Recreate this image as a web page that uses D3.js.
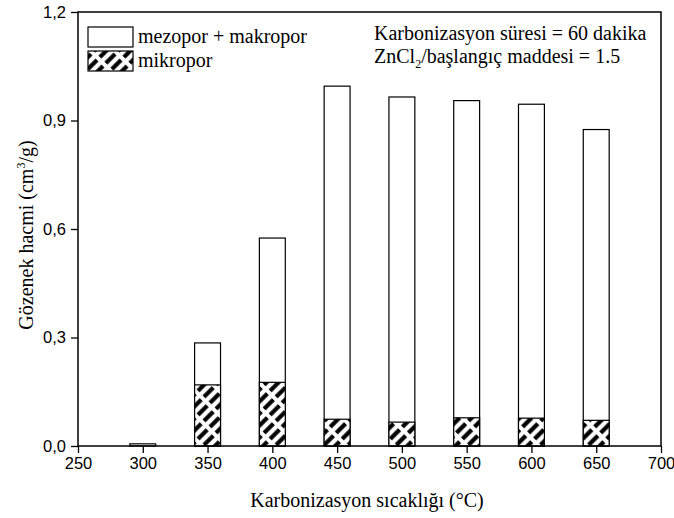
<!DOCTYPE html>
<html>
<head>
<meta charset="utf-8">
<script src="https://cdn.jsdelivr.net/npm/d3@7"></script>
<style>
  body { margin: 0; background: #fff; }
  svg text { fill: #000; }
  .tick text { font-family: "Liberation Sans", Arial, sans-serif; font-size: 16.5px; }
</style>
</head>
<body>
<div id="chart"></div>
<script>
// temperatures (°C)
var temps = [300, 350, 400, 450, 500, 550, 600, 650];
// total pore volume (mezopor + makropor + mikropor), cm3/g
var totalVol = [0.006, 0.285, 0.575, 0.995, 0.965, 0.955, 0.945, 0.875];
// micropore volume, cm3/g
var microVol = [0.0, 0.169, 0.176, 0.074, 0.066, 0.078, 0.077, 0.071];

var xTicks = [250, 300, 350, 400, 450, 500, 550, 600, 650, 700];
var yTicks = [0.0, 0.3, 0.6, 0.9, 1.2];

var legendLabels = ["mezopor + makropor", "mikropor"];

var SERIF = '"Liberation Serif", "Times New Roman", Times, serif';

var width = 674, height = 518;
var margin = {top: 12, right: 13, bottom: 72, left: 78};
var w = width - margin.left - margin.right,
    h = height - margin.top - margin.bottom;

var svg = d3.select("#chart").append("svg")
    .attr("width", width)
    .attr("height", height);

// hatch pattern for micropores (thick dashed diagonals)
var defs = svg.append("defs");
var pat = defs.append("pattern")
    .attr("id", "hatch")
    .attr("patternUnits", "userSpaceOnUse")
    .attr("width", 8.5)
    .attr("height", 17)
    .attr("patternTransform", "rotate(45)");
pat.append("rect").attr("width", 8.5).attr("height", 17).attr("fill", "#fff");
pat.append("line")
    .attr("x1", 4.25).attr("y1", 0)
    .attr("x2", 4.25).attr("y2", 13)
    .attr("stroke", "#000")
    .attr("stroke-width", 4.2);

var g = svg.append("g")
    .attr("transform", "translate(" + margin.left + "," + margin.top + ")");

var x = d3.scaleLinear().domain([250, 700]).range([0, w]);
var y = d3.scaleLinear().domain([0, 1.2]).range([h, 0]);

var barW = x(360) - x(340);

// bars: total first (white), then micropore (hatched)
g.append("g").selectAll("rect")
    .data(temps)
    .enter()
    .append("rect")
        .attr("x", function(d) { return x(d) - barW / 2; })
        .attr("y", function(d, i) { return y(totalVol[i]); })
        .attr("width", barW)
        .attr("height", function(d, i) { return h - y(totalVol[i]); })
        .attr("fill", "#fff")
        .attr("stroke", "#000")
        .attr("stroke-width", 1.2);

g.append("g").selectAll("rect")
    .data(temps.filter(function(d, i) { return microVol[i] > 0; }))
    .enter()
    .append("rect")
        .attr("x", function(d) { return x(d) - barW / 2; })
        .attr("y", function(d) { return y(microVol[temps.indexOf(d)]); })
        .attr("width", barW)
        .attr("height", function(d) { return h - y(microVol[temps.indexOf(d)]); })
        .attr("fill", "url(#hatch)")
        .attr("stroke", "#000")
        .attr("stroke-width", 1.2);

// axes
var xAxis = g.append("g")
    .attr("transform", "translate(0," + h + ")")
    .call(d3.axisBottom(x).tickValues(xTicks).tickSize(7).tickPadding(4).tickFormat(d3.format("d")));
var yAxis = g.append("g")
    .call(d3.axisLeft(y).tickValues(yTicks).tickSize(7).tickPadding(5)
        .tickFormat(function(d) { return d3.format(".1f")(d).replace(".", ","); }));
[xAxis, yAxis].forEach(function(a) {
    a.select(".domain").remove();
    a.selectAll(".tick line").attr("stroke", "#000").attr("stroke-width", 1.3);
});

// frame
g.append("rect")
    .attr("width", w)
    .attr("height", h)
    .attr("fill", "none")
    .attr("stroke", "#000")
    .attr("stroke-width", 1.5);

// axis titles
svg.append("text")
    .attr("text-anchor", "middle")
    .attr("x", 367)
    .attr("y", 507)
    .style("font-family", SERIF)
    .style("font-size", "20px")
    .text("Karbonizasyon sıcaklığı (°C)");

var yt = svg.append("text")
    .attr("text-anchor", "middle")
    .attr("transform", "translate(33,235) rotate(-90)")
    .style("font-family", SERIF)
    .style("font-size", "20px");
yt.append("tspan").text("Gözenek hacmi (cm");
yt.append("tspan").attr("dy", -8).style("font-size", "12px").text("3");
yt.append("tspan").attr("dy", 8).text("/g)");

// legend
var leg = svg.append("g").attr("transform", "translate(88,27)");
legendLabels.forEach(function(lab, i) {
    var row = leg.append("g").attr("transform", "translate(0," + (i * 24) + ")");
    row.append("rect")
        .attr("width", 45)
        .attr("height", 20)
        .attr("fill", i === 0 ? "#fff" : "url(#hatch)")
        .attr("stroke", "#000")
        .attr("stroke-width", 1.2);
    row.append("text")
        .attr("x", 50)
        .attr("y", 16)
        .style("font-family", SERIF)
        .style("font-size", "20px")
        .text(lab);
});

// annotation
var ann = svg.append("g").style("font-family", SERIF).style("font-size", "20px");
ann.append("text").attr("x", 374).attr("y", 40).text("Karbonizasyon süresi = 60 dakika");
var t2 = ann.append("text").attr("x", 374).attr("y", 63);
t2.append("tspan").text("ZnCl");
t2.append("tspan").attr("dy", 5).style("font-size", "12px").text("2");
t2.append("tspan").attr("dy", -5).text("/başlangıç maddesi = 1.5");
</script>
</body>
</html>
